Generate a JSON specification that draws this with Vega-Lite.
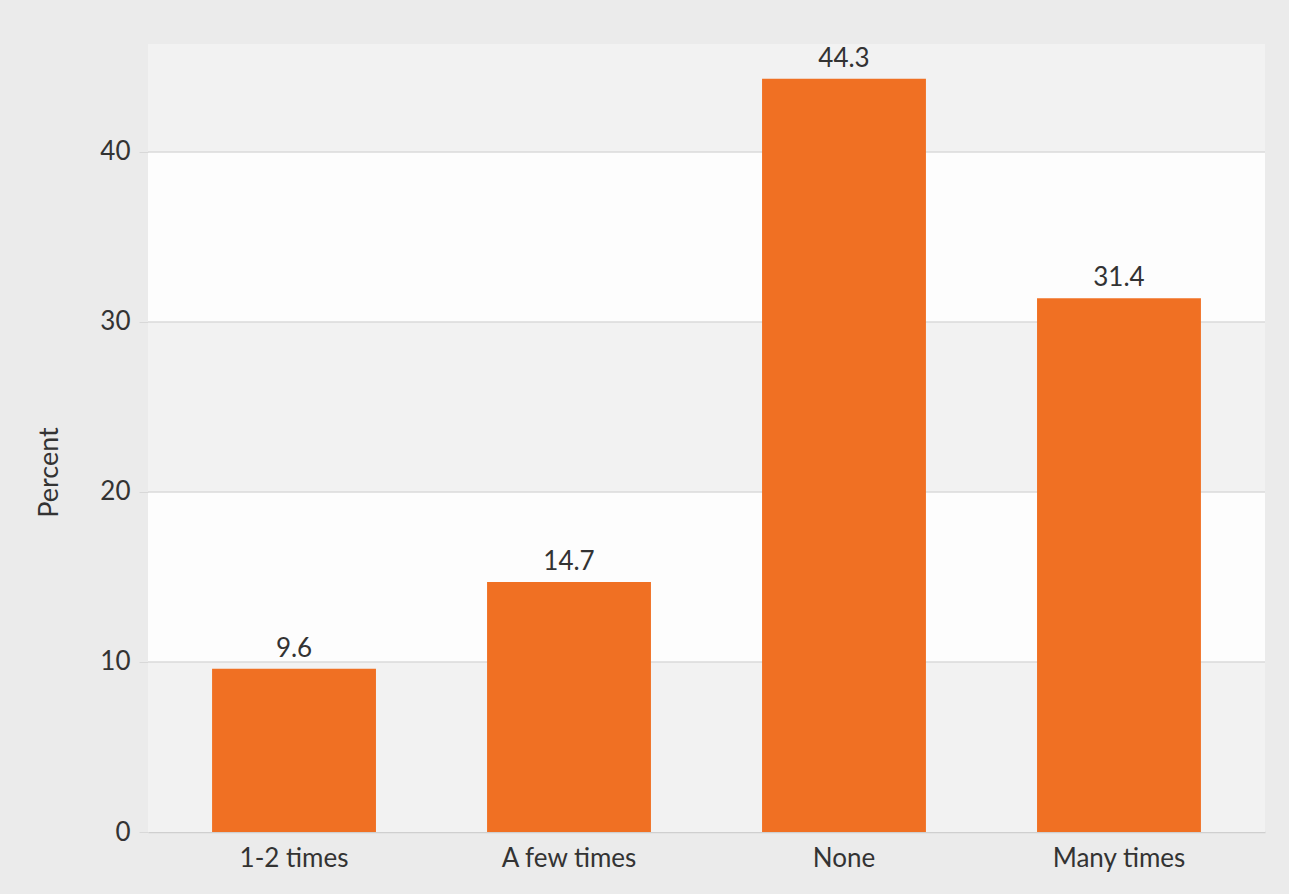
{
  "$schema": "https://vega.github.io/schema/vega-lite/v6.json",
  "width": 1117,
  "height": 788,
  "autosize": "none",
  "padding": {"left": 148, "top": 44, "right": 24, "bottom": 62},
  "background": "#ebebeb",
  "config": {
    "font": "Lato",
    "view": {"stroke": null, "fill": "#fdfdfd"}
  },
  "datasets": {
    "bars": [
      {"category": "1-2 times", "value": 9.6},
      {"category": "A few times", "value": 14.7},
      {"category": "None", "value": 44.3},
      {"category": "Many times", "value": 31.4}
    ],
    "bands": [
      {"lo": 0, "hi": 10},
      {"lo": 20, "hi": 30},
      {"lo": 40, "hi": 46.35}
    ],
    "grid": [
      {"v": 10}, {"v": 20}, {"v": 30}, {"v": 40}
    ]
  },
  "layer": [
    {
      "data": {"name": "bands"},
      "mark": {"type": "rect", "color": "#f2f2f2"},
      "encoding": {
        "y": {
          "field": "lo", "type": "quantitative",
          "scale": {"domain": [0, 46.35], "nice": false},
          "axis": {
            "title": "Percent", "titleFontSize": 27, "titleFontWeight": "normal", "titleColor": "#333333",
            "titlePadding": 36, "titleY": 428,
            "values": [0, 10, 20, 30, 40], "grid": false, "domain": false,
            "labelFontSize": 26, "labelColor": "#333333", "labelPadding": 9,
            "tickColor": "#d8d8d8", "tickSize": 9
          }
        },
        "y2": {"field": "hi"}
      }
    },
    {
      "data": {"name": "grid"},
      "mark": {"type": "rule", "color": "#dadada", "strokeWidth": 1.5},
      "encoding": {
        "y": {"field": "v", "type": "quantitative"}
      }
    },
    {
      "data": {"name": "bars"},
      "mark": {"type": "bar", "color": "#f07023"},
      "encoding": {
        "x": {
          "field": "category", "type": "nominal", "sort": null,
          "scale": {"paddingInner": 0.404, "paddingOuter": 0.233},
          "axis": {
            "title": null, "labelAngle": 0, "labelFontSize": 26, "labelColor": "#333333",
            "labelPadding": 13, "ticks": false, "domainColor": "#cfcfcf", "domainWidth": 1.5
          }
        },
        "y": {"field": "value", "type": "quantitative"}
      }
    },
    {
      "data": {"name": "bars"},
      "mark": {"type": "text", "dy": -12, "fontSize": 26, "color": "#333333", "baseline": "alphabetic"},
      "encoding": {
        "x": {"field": "category", "type": "nominal", "sort": null},
        "y": {"field": "value", "type": "quantitative"},
        "text": {"field": "value", "type": "quantitative", "format": ".1f"}
      }
    }
  ]
}
